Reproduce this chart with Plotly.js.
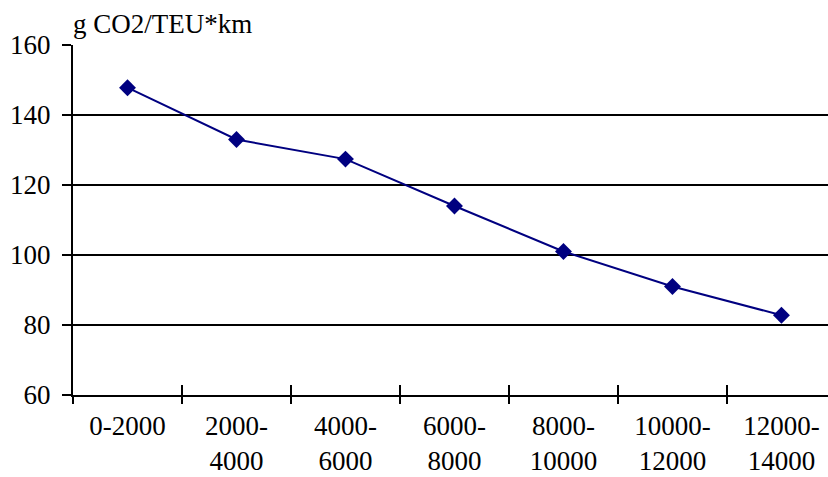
<!DOCTYPE html>
<html>
<head>
<meta charset="utf-8">
<script src="https://cdn.plot.ly/plotly-3.0.1.min.js"></script>
<style>html,body{margin:0;padding:0;background:#fff;}#chart{width:828px;height:477px;}</style>
</head>
<body>
<div id="chart"></div>
<script>
const categories = ["0-2000", "2000-4000", "4000-6000", "6000-8000", "8000-10000", "10000-12000", "12000-14000"];
const tickLabels = ["0-2000", "2000-<br>4000", "4000-<br>6000", "6000-<br>8000", "8000-<br>10000", "10000-<br>12000", "12000-<br>14000"];
const emissions = [147.8, 133.0, 127.4, 114.0, 101.0, 91.0, 82.8];
const yTicks = [60, 80, 100, 120, 140, 160];
const unitLabel = "g CO2/TEU*km";

const font = "Liberation Serif";

const trace = {
  x: categories,
  y: emissions,
  type: "scatter",
  mode: "lines+markers",
  line: {color: "#000080", width: 2},
  marker: {symbol: "diamond", size: 13, color: "#000080"},
  hoverinfo: "x+y",
  cliponaxis: false
};

const boundaryTicks = [];
for (let i = 0; i <= categories.length; i++) boundaryTicks.push(i - 0.5);
const overlay = {
  x: [0], y: [null], xaxis: "x2", yaxis: "y", type: "scatter", mode: "markers",
  showlegend: false, hoverinfo: "skip"
};

const xRange = [-0.5, 6.427];

const layout = {
  width: 828,
  height: 477,
  margin: {l: 73, r: 0, t: 45, b: 82},
  paper_bgcolor: "#ffffff",
  plot_bgcolor: "#ffffff",
  showlegend: false,
  font: {family: font, color: "#000000", size: 27},
  xaxis: {
    type: "category",
    range: xRange,
    tickvals: categories,
    ticktext: tickLabels,
    tickson: "boundaries",
    ticks: "outside",
    ticklen: 7,
    tickwidth: 1.5,
    tickcolor: "#000",
    showgrid: false,
    showline: true,
    linecolor: "#000",
    linewidth: 1.5,
    zeroline: false,
    tickfont: {family: font, size: 27, color: "#000"},
    ticklabelstandoff: 6,
    fixedrange: true
  },
  xaxis2: {
    overlaying: "x",
    range: xRange,
    tickmode: "array",
    tickvals: boundaryTicks,
    showticklabels: false,
    ticks: "inside",
    ticklen: 10,
    tickwidth: 1.5,
    tickcolor: "#000",
    showgrid: false,
    showline: false,
    zeroline: false,
    side: "bottom",
    anchor: "y",
    fixedrange: true
  },
  yaxis: {
    range: [60, 160],
    tickvals: yTicks,
    ticks: "outside",
    ticklen: 9,
    tickwidth: 1.5,
    tickcolor: "#000",
    showgrid: true,
    gridcolor: "#000",
    gridwidth: 1.5,
    showline: true,
    linecolor: "#000",
    linewidth: 2,
    zeroline: false,
    tickfont: {family: font, size: 27, color: "#000"},
    ticklabelstandoff: 6,
    fixedrange: true
  },
  annotations: [{
    text: unitLabel,
    xref: "paper", yref: "paper",
    x: 0, y: 1,
    xanchor: "left", yanchor: "bottom",
    xshift: -2,
    yshift: 4,
    showarrow: false,
    font: {family: font, size: 27, color: "#000"}
  }]
};

Plotly.newPlot("chart", [trace, overlay], layout, {displayModeBar: false, staticPlot: true});
</script>
</body>
</html>
